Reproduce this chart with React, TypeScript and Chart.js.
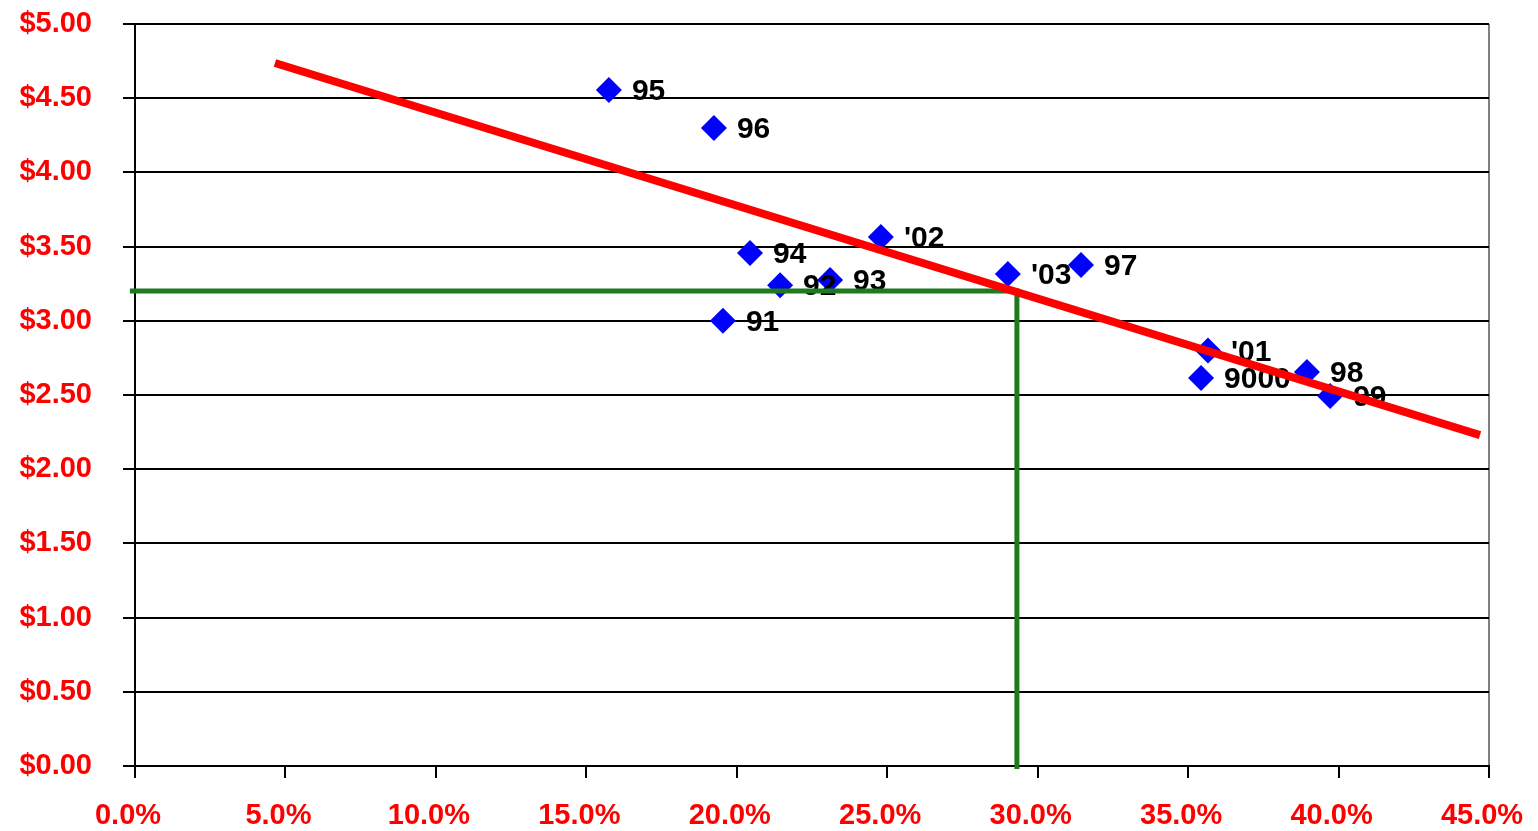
import React, { useEffect, useRef } from "react";
import { Chart, registerables } from "chart.js";

Chart.register(...registerables);

// Scatter points: x = percent, y = dollars
const pointLabels = ["95", "96", "'02", "94", "92", "93", "91", "'03", "97", "'01", "9000", "98", "99"];
const pointX = [15.75, 19.24, 24.79, 20.44, 21.44, 23.1, 19.54, 29.01, 31.44, 35.66, 35.43, 38.95, 39.72];
const pointY = [4.555, 4.3, 3.565, 3.457, 3.24, 3.275, 3.0, 3.315, 3.376, 2.8, 2.615, 2.655, 2.493];

// Trend line endpoints
const trendX = [4.65, 44.7];
const trendY = [4.737, 2.23];

// Green guide lines
const guideX = [-0.17, 29.31, 29.31];
const guideY = [3.2, 3.2, -0.02];

const xTicks = [0, 5, 10, 15, 20, 25, 30, 35, 40, 45];
const yTicks = [0, 0.5, 1, 1.5, 2, 2.5, 3, 3.5, 4, 4.5, 5];

const labelPlugin = {
  id: "pointLabels",
  afterDatasetDraw(chart: any, args: any) {
    if (args.index !== 2) return;
    const meta = chart.getDatasetMeta(2);
    const ctx = chart.ctx;
    ctx.save();
    ctx.font = "bold 30px 'Liberation Sans', Arial, sans-serif";
    ctx.fillStyle = "#000";
    ctx.textBaseline = "middle";
    ctx.textAlign = "left";
    meta.data.forEach((el: any, i: number) => {
      ctx.fillText(pointLabels[i], el.x + 23, el.y + 2);
    });
    ctx.restore();
  },
};

export default function App() {
  const ref = useRef<HTMLCanvasElement | null>(null);
  useEffect(() => {
    if (!ref.current) return;
    const chart = new Chart(ref.current, {
      type: "scatter",
      data: {
        datasets: [
          {
            type: "line",
            data: trendX.map((x, i) => ({ x, y: trendY[i] })),
            borderColor: "#ff0000",
            borderWidth: 8,
            pointRadius: 0,
            fill: false,
          } as any,
          {
            type: "line",
            data: guideX.map((x, i) => ({ x, y: guideY[i] })),
            borderColor: "#1f7a1f",
            borderWidth: 5,
            pointRadius: 0,
            fill: false,
            clip: false,
            borderJoinStyle: "miter",
          } as any,
          {
            type: "scatter",
            data: pointX.map((x, i) => ({ x, y: pointY[i] })),
            pointStyle: "rectRot",
            pointRadius: 13,
            backgroundColor: "#0000ff",
            borderColor: "#0000ff",
            borderWidth: 0,
          } as any,
        ],
      },
      options: {
        animation: false,
        responsive: false,
        events: [],
        layout: { padding: { top: 24, right: 49, left: 0, bottom: 0 } },
        plugins: { legend: { display: false }, tooltip: { enabled: false } },
        scales: {
          x: {
            type: "linear",
            min: 0,
            max: 45,
            afterBuildTicks: (s: any) => {
              s.ticks = xTicks.map((v) => ({ value: v }));
            },
            afterFit: (s: any) => {
              s.height = 65;
              s.paddingLeft = 0;
              s.paddingRight = 0;
              s.paddingTop = 0;
              s.paddingBottom = 0;
            },
            ticks: {
              color: "#ff0000",
              font: { family: "'Liberation Sans', Arial, sans-serif", size: 29, weight: "bold" },
              padding: 21,
              labelOffset: -7,
              maxRotation: 0,
              autoSkip: false,
              callback: (v: any) => Number(v).toFixed(1) + "%",
            },
            grid: {
              drawOnChartArea: true,
              color: (c: any) => (c.index === xTicks.length - 1 ? "#808080" : "rgba(0,0,0,0)"),
              tickColor: "#000",
              tickLength: 12,
              lineWidth: 2,
            },
            border: { color: "#000", width: 2 },
          },
          y: {
            type: "linear",
            min: 0,
            max: 5,
            afterBuildTicks: (s: any) => {
              s.ticks = yTicks.map((v) => ({ value: v }));
            },
            afterFit: (s: any) => {
              s.width = 135;
              s.paddingLeft = 0;
              s.paddingRight = 0;
              s.paddingTop = 0;
              s.paddingBottom = 0;
            },
            ticks: {
              color: "#ff0000",
              font: { family: "'Liberation Sans', Arial, sans-serif", size: 29, weight: "bold" },
              padding: 31,
              autoSkip: false,
              callback: (v: any) => "$" + Number(v).toFixed(2),
            },
            grid: {
              color: "#000",
              tickColor: "#000",
              tickLength: 12,
              lineWidth: 2,
            },
            border: { color: "#000", width: 2 },
          },
        },
      },
      plugins: [labelPlugin],
    });
    return () => chart.destroy();
  }, []);
  return (
    <div style={{ position: "fixed", left: 0, top: 0, width: 1538, height: 831, background: "#fff" }}>
      <canvas ref={ref} width={1538} height={831} style={{ display: "block" }} />
    </div>
  );
}
